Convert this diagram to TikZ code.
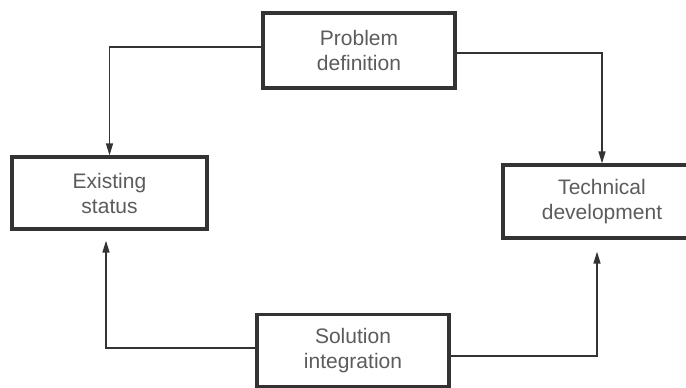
\documentclass[tikz,border=0pt]{standalone}
\usepackage{fontspec}
\setmainfont{Liberation Sans}
\usetikzlibrary{arrows.meta}
\definecolor{inkline}{HTML}{333333}
\definecolor{inktext}{HTML}{5C5C5C}
\begin{document}
\begin{tikzpicture}[x=1pt,y=-1pt,
  stagebox/.style={draw=inkline, line width=3.2pt, fill=white, inner sep=0pt,
    align=center, text=inktext,
    font=\fontsize{21pt}{25pt}\selectfont},
  flow/.style={draw=inkline, line width=1.4pt,
    -{Triangle[length=12pt,width=7pt]}}]
  \useasboundingbox (0,0) rectangle (686,388);

  % process stages
  \node[stagebox, minimum width=192pt, minimum height=75pt] (pd) at (359,50.5) {Problem\\definition};
  \node[stagebox, minimum width=195pt, minimum height=72pt] (es) at (109.5,193) {Existing\\status};
  \node[stagebox, minimum width=198pt, minimum height=73pt] (td) at (602,201.5) {Technical\\development};
  \node[stagebox, minimum width=192pt, minimum height=72pt] (si) at (353,350.5) {Solution\\integration};

  % end points below the lower boxes
  \coordinate (esin) at ([xshift=-3.5pt,yshift=-10pt]es.south);
  \coordinate (tdin) at ([xshift=-5pt,yshift=-12pt]td.south);

  % connectors
  \draw[flow] ([yshift=3.5pt]pd.west) -| (es.north);
  \draw[flow] ([yshift=-2.5pt]pd.east) -| (td.north);
  \draw[flow] ([yshift=2.5pt]si.west) -| (esin);
  \draw[flow] ([yshift=-5.5pt]si.east) -| (tdin);
\end{tikzpicture}
\end{document}
